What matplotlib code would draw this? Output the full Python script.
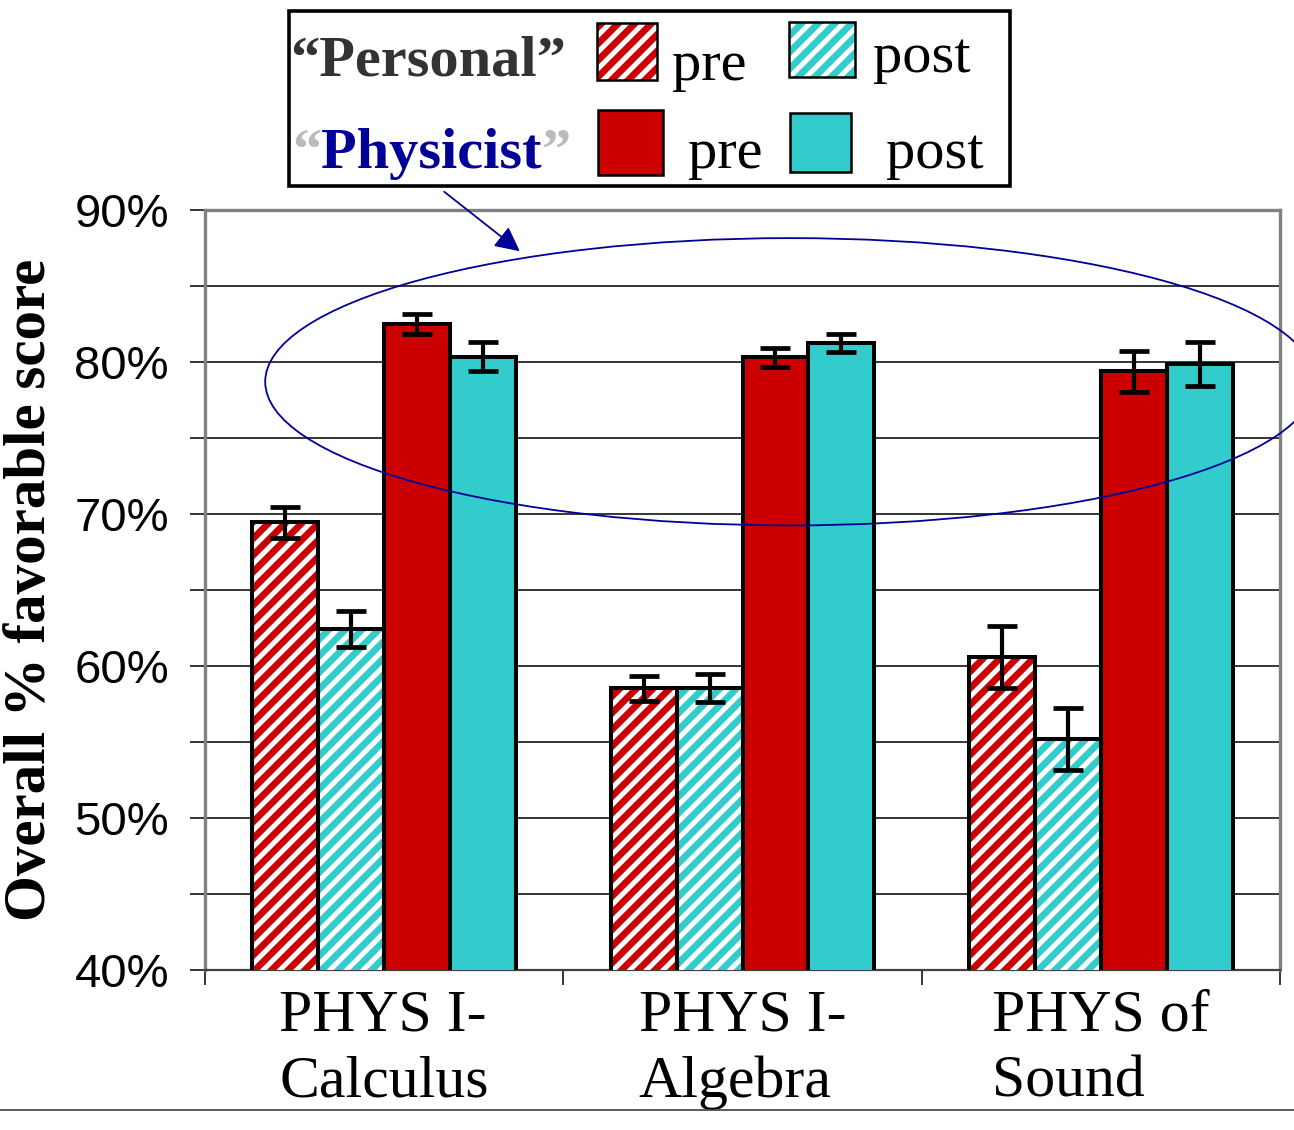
import matplotlib
matplotlib.use("Agg")
import matplotlib.pyplot as plt
import numpy as np
from matplotlib.patches import Rectangle, Ellipse
from matplotlib.lines import Line2D
from matplotlib.ticker import MultipleLocator, FixedLocator, NullFormatter, FixedFormatter

# ---------------- data ----------------
courses = ["PHYS I-\nCalculus", "PHYS I-\nAlgebra", "PHYS of\nSound"]
personal_pre = [69.45, 58.55, 60.6]
personal_post = [62.45, 58.55, 55.2]
physicist_pre = [82.5, 80.3, 79.4]
physicist_post = [80.35, 81.25, 79.85]
personal_pre_err = [1.0, 0.82, 2.05]
personal_post_err = [1.18, 0.92, 2.04]
physicist_pre_err = [0.64, 0.62, 1.35]
physicist_post_err = [0.96, 0.62, 1.45]
y_ticks = [40, 50, 60, 70, 80, 90]
y_ticklabels = ["40%", "50%", "60%", "70%", "80%", "90%"]

RED = "#CC0000"
CYAN = "#33CCCC"
BLUE = "#000099"

plt.rcParams["hatch.linewidth"] = 3.6
serif = ["Liberation Serif", "DejaVu Serif"]
sans = ["Liberation Sans", "DejaVu Sans"]

W, H = 1294, 1130
fig = plt.figure(figsize=(W / 100, H / 100), dpi=100)
ax = fig.add_axes([205 / W, 1 - 970 / H, 1075 / W, 760 / H])

n = len(courses)
centers = np.arange(n) + 0.5
bw = 0.184
offs = np.array([-1.5, -0.5, 0.5, 1.5]) * bw

series = [
    (personal_pre, personal_pre_err, RED, True),
    (personal_post, personal_post_err, CYAN, True),
    (physicist_pre, physicist_pre_err, RED, False),
    (physicist_post, physicist_post_err, CYAN, False),
]

for (vals, errs, col, hatched), off in zip(series, offs):
    x = centers + off
    if hatched:
        ax.bar(x, vals, bw, color=col, edgecolor="white", hatch="//",
               linewidth=0, zorder=3)
    else:
        ax.bar(x, vals, bw, color=col, linewidth=0, zorder=3)
    ax.bar(x, vals, bw, fill=False, edgecolor="black", linewidth=2.9, zorder=4)
    ax.errorbar(x, vals, yerr=errs, fmt="none", ecolor="black", elinewidth=3.0,
                capsize=10.5, capthick=3.4, zorder=5)

ax.set_xlim(0, n)
ax.set_ylim(40, 90)

# y axis
ax.yaxis.set_major_locator(FixedLocator(y_ticks))
ax.yaxis.set_major_formatter(FixedFormatter(y_ticklabels))
ax.yaxis.set_minor_locator(MultipleLocator(5))
ax.grid(axis="y", which="both", color="black", linewidth=1.1, zorder=1)
ax.set_axisbelow(True)
ax.tick_params(axis="y", which="both", direction="out", length=11, width=1.1,
               color="black", pad=15)
for lab in ax.get_yticklabels():
    lab.set_fontfamily(sans)
    lab.set_fontsize(34)

# x axis
ax.xaxis.set_major_locator(FixedLocator(np.arange(n + 1)))
ax.xaxis.set_major_formatter(NullFormatter())
ax.xaxis.set_minor_locator(FixedLocator(centers))
ax.xaxis.set_minor_formatter(FixedFormatter(courses))
ax.tick_params(axis="x", which="major", direction="out", length=11, width=1.1,
               color="black")
ax.tick_params(axis="x", which="minor", length=0, pad=14)
for lab in ax.get_xticklabels(minor=True):
    lab.set_fontfamily(serif)
    lab.set_fontsize(43)
    lab.set_multialignment("left")
    lab.set_linespacing(1.3)

ax.set_ylabel("Overall % favorable score", fontfamily=serif, fontweight="bold",
              fontsize=42.5, labelpad=12)

for side in ["left", "top", "right"]:
    ax.spines[side].set_color("#808080")
    ax.spines[side].set_linewidth(2.4)
ax.spines["bottom"].set_color("#404040")
ax.spines["bottom"].set_linewidth(1.6)

# ellipse highlighting "Physicist" bars
ell = Ellipse((1.633, 78.7), 2.93, 18.9, fill=False, edgecolor=BLUE,
              linewidth=1.3, clip_on=False, zorder=6)
ax.add_patch(ell)

# ---------------- legend (built manually) ----------------
def fx(px):
    return px / W

def fy(py):
    return 1 - py / H

fig.patches.append(Rectangle((fx(289), fy(186)), fx(1010) - fx(289), fy(11) - fy(186),
                             transform=fig.transFigure, fill=False,
                             edgecolor="black", linewidth=2.6, zorder=10))

def leg_patch(x0, y0, x1, y1, col, hatched):
    if hatched:
        fig.patches.append(Rectangle((fx(x0), fy(y1)), fx(x1) - fx(x0), fy(y0) - fy(y1),
                                     transform=fig.transFigure, facecolor=col,
                                     edgecolor="white", hatch="//", linewidth=0))
    else:
        fig.patches.append(Rectangle((fx(x0), fy(y1)), fx(x1) - fx(x0), fy(y0) - fy(y1),
                                     transform=fig.transFigure, facecolor=col,
                                     linewidth=0))
    fig.patches.append(Rectangle((fx(x0), fy(y1)), fx(x1) - fx(x0), fy(y0) - fy(y1),
                                 transform=fig.transFigure, fill=False,
                                 edgecolor="black", linewidth=1.8))

leg_patch(597, 23, 657, 80, RED, True)
leg_patch(789, 22, 855, 77, CYAN, True)
leg_patch(598, 110, 663, 175, RED, False)
leg_patch(790, 113, 851, 172, CYAN, False)

fs_leg = 42
fig.text(fx(290), fy(75), "\u201cPersonal\u201d", fontfamily=serif, fontweight="bold",
         fontsize=fs_leg, color="#333333", va="baseline", ha="left")
fig.text(fx(672), fy(80), "pre", fontfamily=serif, fontsize=fs_leg,
         color="black", va="baseline", ha="left")
fig.text(fx(873), fy(72), "post", fontfamily=serif, fontsize=fs_leg,
         color="black", va="baseline", ha="left")

t1 = fig.text(fx(292), fy(168), "\u201c", fontfamily=serif, fontweight="bold",
              fontsize=fs_leg, color="#BBBBBB", va="baseline", ha="left")
fig.canvas.draw()
r = fig.canvas.get_renderer()
bb = t1.get_window_extent(r)
t2 = fig.text(bb.x1 / W, fy(168), "Physicist", fontfamily=serif, fontweight="bold",
              fontsize=fs_leg, color=BLUE, va="baseline", ha="left")
bb2 = t2.get_window_extent(r)
fig.text(bb2.x1 / W, fy(168), "\u201d", fontfamily=serif, fontweight="bold",
         fontsize=fs_leg, color="#BBBBBB", va="baseline", ha="left")
fig.text(fx(688), fy(168), "pre", fontfamily=serif, fontsize=fs_leg,
         color="black", va="baseline", ha="left")
fig.text(fx(886), fy(168), "post", fontfamily=serif, fontsize=fs_leg,
         color="black", va="baseline", ha="left")

# arrow from legend to ellipse
fig.add_artist(matplotlib.patches.FancyArrowPatch(
    (fx(442), fy(190)), (fx(522), fy(253)), transform=fig.transFigure,
    arrowstyle="-|>,head_length=10,head_width=5", color=BLUE, linewidth=1.3,
    mutation_scale=1.5))

# thin line across the bottom of the figure
fig.add_artist(Line2D([0, 1], [fy(1110), fy(1110)], transform=fig.transFigure,
                      color="#404040", linewidth=1.2))

fig.savefig("out.png", dpi=100)
